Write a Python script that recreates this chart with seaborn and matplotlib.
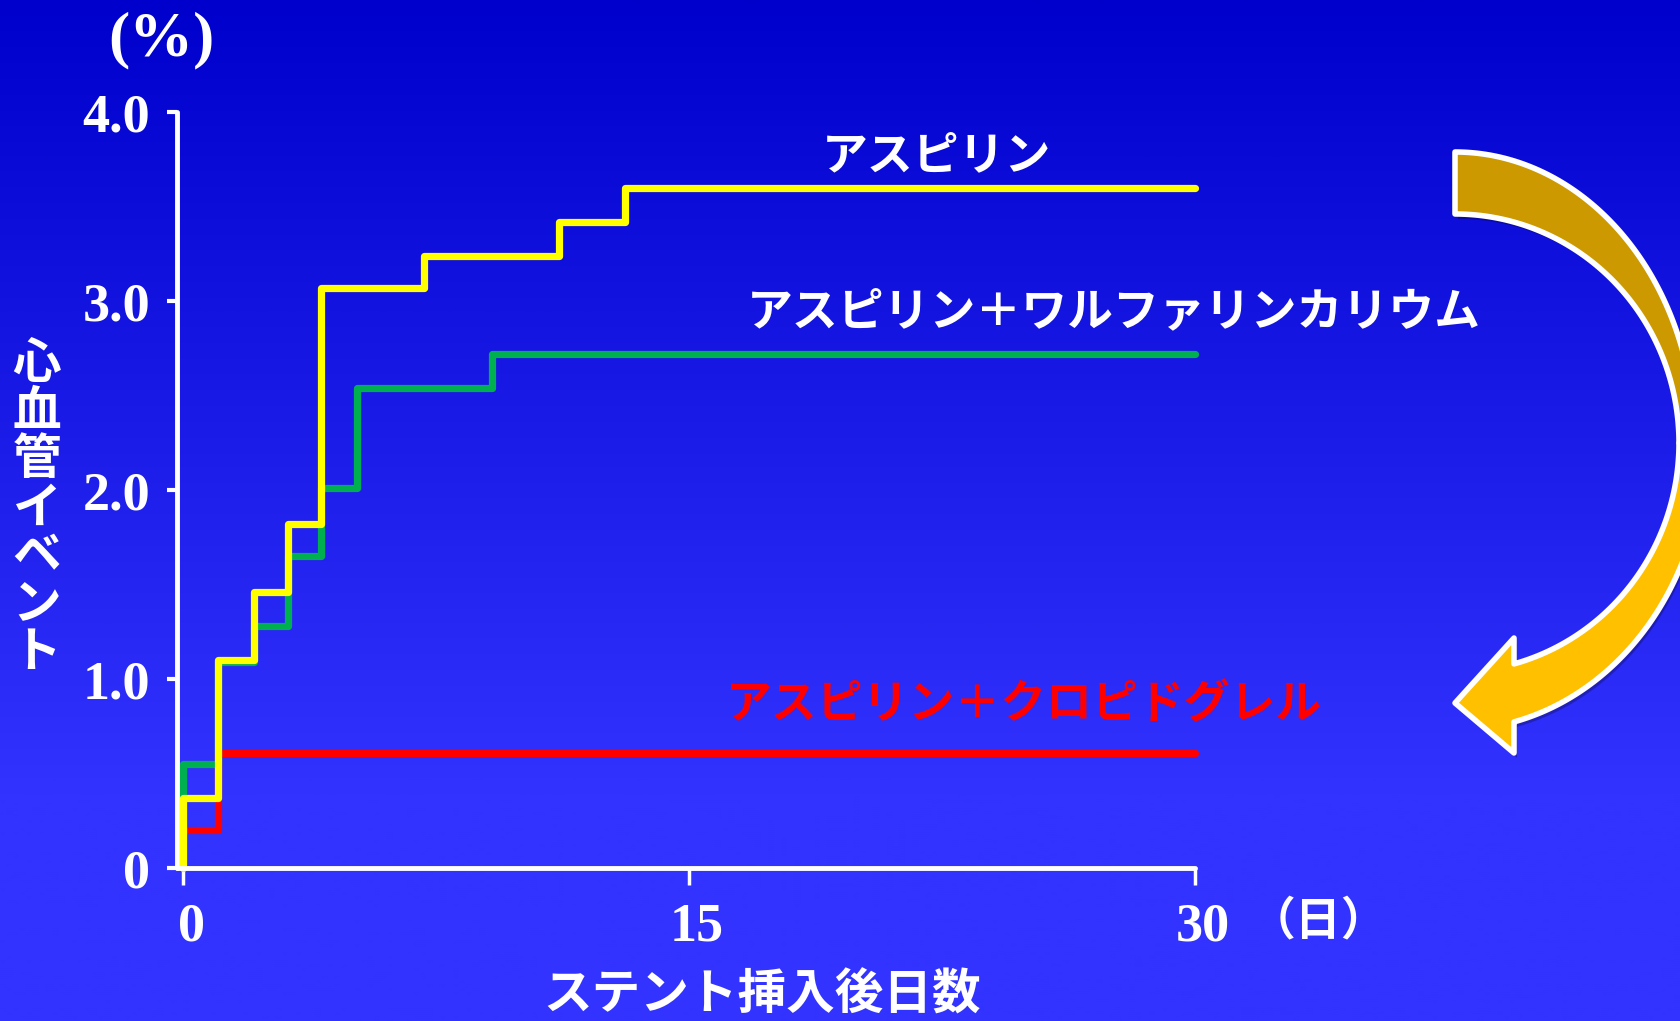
import numpy as np
import pandas as pd
import matplotlib
matplotlib.use("Agg")
import matplotlib.pyplot as plt
import matplotlib.transforms as mtransforms
from matplotlib.patches import Polygon
from matplotlib.colors import LinearSegmentedColormap
import seaborn as sns

# Cumulative cardiovascular event rate (%) after stent placement (step changes)
asp_name = "アスピリン"
warf_name = "アスピリン＋ワルファリンカリウム"
clop_name = "アスピリン＋クロピドグレル"

asp_days = [0, 0, 1.05, 2.1, 3.1, 4.1, 7.15, 11.15, 13.1, 30]
asp_rate = [0, 0.37, 1.10, 1.46, 1.82, 3.07, 3.24, 3.42, 3.60, 3.60]

warf_days = [0, 0, 1.05, 2.1, 3.1, 4.1, 5.15, 9.15, 30]
warf_rate = [0, 0.55, 1.09, 1.28, 1.65, 2.01, 2.54, 2.72, 2.72]

clop_days = [0, 0, 1.05, 30]
clop_rate = [0, 0.20, 0.61, 0.61]

x_ticks = [0, 15, 30]
x_tick_labels = ["0", "15", "30"]
y_ticks = [0, 1, 2, 3, 4]
y_tick_labels = ["0", "1.0", "2.0", "3.0", "4.0"]

x_label = "ステント挿入後日数"
y_label = "心血管イベント"
y_unit = "(%)"
x_unit = "（日）"

df = pd.concat([
    pd.DataFrame({"day": clop_days, "rate": clop_rate, "group": clop_name}),
    pd.DataFrame({"day": warf_days, "rate": warf_rate, "group": warf_name}),
    pd.DataFrame({"day": asp_days, "rate": asp_rate, "group": asp_name}),
], ignore_index=True)

sns.set_style("ticks")
JP = ["Noto Sans CJK JP", "DejaVu Sans"]
SERIF = ["Liberation Serif", "DejaVu Serif"]
plt.rcParams["font.family"] = JP

W, H = 1681, 1021
fig = plt.figure(figsize=(W / 100, H / 100), dpi=100)

# pixel (y down) -> figure transform for decorations
px = mtransforms.Affine2D().scale(1 / W, -1 / H).translate(0, 1) + fig.transFigure

# background gradient
bg = fig.add_axes([0, 0, 1, 1], zorder=-10)
bg.axis("off")
grad_cmap = LinearSegmentedColormap.from_list(
    "slide", [(0.0, "#0000CC"), (0.78, "#3333FF"), (1.0, "#3333FF")])
g = np.linspace(0, 1, 512).reshape(-1, 1)
bg.imshow(g, aspect="auto", cmap=grad_cmap, extent=[0, 1, 0, 1], origin="upper")
bg.set_xlim(0, 1)
bg.set_ylim(0, 1)

# main axes
left, right, bottom, top = 177, 1195, 868, 112
ax = fig.add_axes([left / W, 1 - bottom / H, (right - left) / W, (bottom - top) / H])
ax.set_facecolor("none")

palette = {clop_name: "#FF0000", warf_name: "#00B050", asp_name: "#FFFF00"}
sns.lineplot(data=df, x="day", y="rate", hue="group",
             hue_order=[clop_name, warf_name, asp_name], palette=palette,
             drawstyle="steps-post", estimator=None, sort=False,
             linewidth=5.2, legend=False, ax=ax,
             solid_capstyle="round", solid_joinstyle="round")
for ln in ax.lines:
    ln.set_clip_on(False)

ax.set_xlim(-0.178, 30)
ax.set_ylim(0, 4)
sns.despine(ax=ax)
for s in ("left", "bottom"):
    ax.spines[s].set_color("white")
    ax.spines[s].set_linewidth(3.5)
    ax.spines[s].set_capstyle("round")

ax.set_xticks(x_ticks)
ax.set_xticklabels(x_tick_labels)
ax.set_yticks(y_ticks)
ax.set_yticklabels(y_tick_labels)
ax.tick_params(axis="y", colors="white", length=7.5, width=3, pad=12)
ax.tick_params(axis="x", colors="white", length=12, width=2.5, pad=13)
for lab in ax.get_xticklabels() + ax.get_yticklabels():
    lab.set_fontfamily(SERIF)
    lab.set_fontweight("bold")
    lab.set_fontsize(39)
    lab.set_color("white")
shift = mtransforms.ScaledTranslation(8 / 100, 0, fig.dpi_scale_trans)
for lab in ax.get_xticklabels():
    lab.set_transform(lab.get_transform() + shift)

ax.set_xlabel(x_label, fontsize=35, fontweight="bold", color="white",
              va="center", fontfamily=JP)
ax.xaxis.set_label_coords((762 - left) / (right - left), (bottom - 995) / (bottom - top))
ax.set_ylabel("")

# vertical y label, one character per row
fig.text(37, 508, "\n".join(y_label), transform=px, ha="center", va="center",
         fontsize=35, fontweight="bold", color="white", fontfamily=JP,
         linespacing=0.98, multialignment="center")

fig.text(161, 40, y_unit, transform=px, ha="center", va="center",
         fontsize=46, fontweight="bold", color="white", fontfamily=SERIF)
fig.text(1318, 921, x_unit, transform=px, ha="center", va="center",
         fontsize=33, fontweight="bold", color="white", fontfamily=JP)

# series names
fig.text(937, 156, asp_name, transform=px, ha="center", va="center",
         fontsize=33, fontweight="bold", color="white", fontfamily=JP)
fig.text(1114, 312, warf_name, transform=px, ha="center", va="center",
         fontsize=33, fontweight="bold", color="white", fontfamily=JP)
fig.text(1024, 705, clop_name, transform=px, ha="center", va="center",
         fontsize=33, fontweight="bold", color="#FF0000", fontfamily=JP)

# curved arrow pointing back to the lowest curve
cx, cy = 1455, 443


def arc(a, b, t0, t1, n=120):
    t = np.radians(np.linspace(t0, t1, n))
    return np.column_stack([cx + a * np.cos(t), cy - b * np.sin(t)])


back = np.vstack([arc(240, 291, 90, 0), arc(224, 229, 0, 90)])
inner_end = np.degrees(np.arccos(59 / 224))
outer_end = np.degrees(np.arccos(59 / 250))
front = np.vstack([
    arc(224, 229, 0, -inner_end),
    [[1514, 638], [1455, 703], [1514, 753]],
    arc(250, 287, -outer_end, 0),
])
for pts in (back, front):
    shadow = Polygon(pts + [3, 5], closed=True, transform=px,
                     facecolor="black", edgecolor="none", alpha=0.25, zorder=4)
    fig.patches.append(shadow)
for pts, col in ((back, "#CC9900"), (front, "#FFC000")):
    poly = Polygon(pts, closed=True, transform=px, facecolor=col,
                   edgecolor="white", linewidth=4, joinstyle="round", zorder=5)
    fig.patches.append(poly)

fig.savefig("out.png", dpi=100)
